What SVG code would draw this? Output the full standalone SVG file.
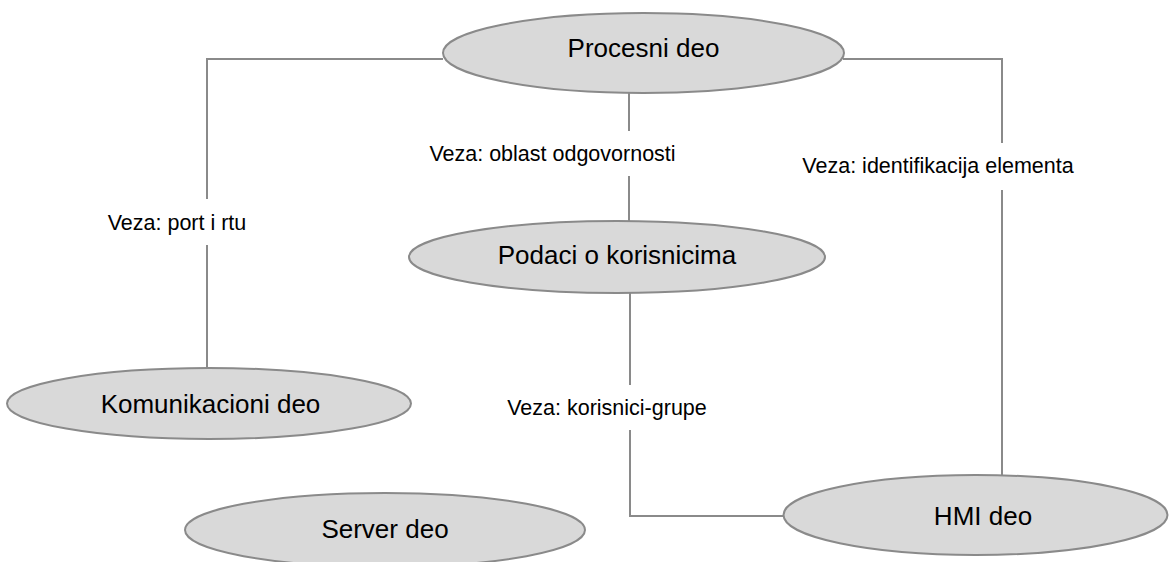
<svg xmlns="http://www.w3.org/2000/svg" width="1171" height="562" viewBox="0 0 1171 562">
  <style>
    .node ellipse { fill: #d9d9d9; stroke: #8a8a8a; stroke-width: 2; }
    .node text { font-family: "Liberation Sans", Arial, sans-serif; font-size: 26px; fill: #000; text-anchor: middle; }
    .conn path { fill: none; stroke: #8a8a8a; stroke-width: 2; }
    .label { font-family: "Liberation Sans", Arial, sans-serif; font-size: 21.5px; fill: #000; text-anchor: middle; }
  </style>
  <rect width="1171" height="562" fill="#ffffff"/>
  <g id="connectors" class="conn">
    <path d="M443,59 H207 V199 M207,245 V368"/>
    <path d="M629,93 V131 M629,176 V221"/>
    <path d="M843,59 H1002 V143 M1002,190 V475"/>
    <path d="M630,293 V385 M630,430 V516 H783"/>
  </g>
  <g id="labels">
    <text class="label" x="177" y="230">Veza: port i rtu</text>
    <text class="label" x="552.5" y="160.5">Veza: oblast odgovornosti</text>
    <text class="label" x="938" y="173">Veza: identifikacija elementa</text>
    <text class="label" x="607" y="415">Veza: korisnici-grupe</text>
  </g>
  <g id="procesni" class="node">
    <ellipse cx="643.5" cy="53" rx="200.5" ry="40"/>
    <text x="643.5" y="57">Procesni deo</text>
  </g>
  <g id="podaci" class="node">
    <ellipse cx="617" cy="257" rx="208" ry="36"/>
    <text x="617" y="264">Podaci o korisnicima</text>
  </g>
  <g id="komunikacioni" class="node">
    <ellipse cx="209" cy="403.5" rx="202" ry="35.5"/>
    <text x="210.5" y="413">Komunikacioni deo</text>
  </g>
  <g id="server" class="node">
    <ellipse cx="385" cy="530" rx="200" ry="37"/>
    <text x="385" y="538">Server deo</text>
  </g>
  <g id="hmi" class="node">
    <ellipse cx="975.5" cy="515" rx="192" ry="40"/>
    <text x="983" y="525">HMI deo</text>
  </g>
</svg>
